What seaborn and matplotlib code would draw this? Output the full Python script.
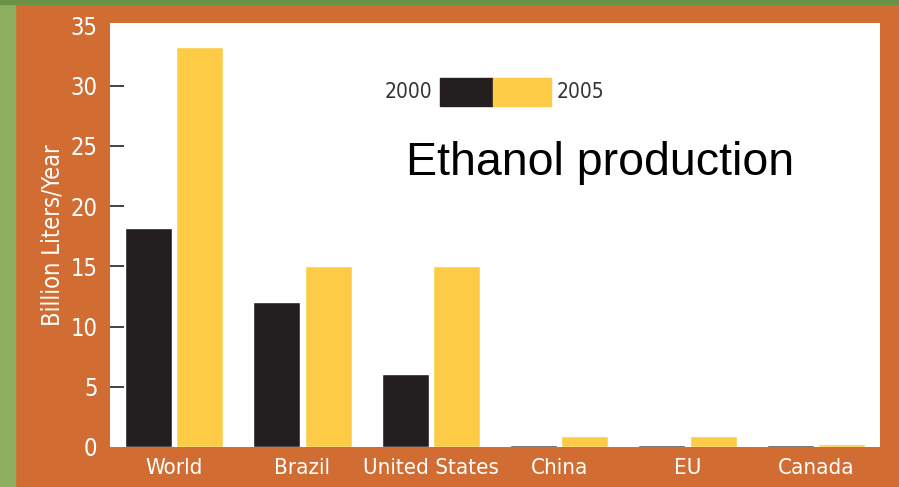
import pandas as pd
import matplotlib.pyplot as plt
import seaborn as sns
from matplotlib.patches import Rectangle
from matplotlib import font_manager

regions = ['World', 'Brazil', 'United States', 'China', 'EU', 'Canada']
prod_2000 = [18.2, 12.0, 6.1, 0.15, 0.15, 0.15]
prod_2005 = [33.2, 15.0, 15.0, 0.9, 0.9, 0.25]
years = ['2000', '2005']
yticks = [0, 5, 10, 15, 20, 25, 30, 35]

df = pd.DataFrame({
    'region': regions * 2,
    'year': [years[0]] * len(regions) + [years[1]] * len(regions),
    'value': prod_2000 + prod_2005,
})

sns.set_theme(style="white")
fonts = font_manager.fontManager.ttflist
names = {f.name for f in fonts}
if 'Liberation Sans Narrow' in names:
    plt.rcParams['font.family'] = ['Liberation Sans Narrow', 'DejaVu Sans']
else:
    plt.rcParams['font.family'] = ['DejaVu Sans']
    plt.rcParams['font.stretch'] = 'condensed'

orange = '#D16D33'
palette = {'2000': '#231F20', '2005': '#FDCB46'}

fig = plt.figure(figsize=(8.99, 4.87), dpi=100, facecolor=orange)
# green slide border
fig.add_artist(Rectangle((0, 0), 15 / 899, 1, transform=fig.transFigure, color='#8DB060', zorder=0))
fig.add_artist(Rectangle((0, 1 - 4 / 487), 1, 4 / 487, transform=fig.transFigure, color='#6A9148', zorder=0))

ax = fig.add_axes([110 / 899, 1 - 447 / 487, 770 / 899, 424 / 487])
ax.set_facecolor('white')

sns.barplot(data=df, x='region', y='value', hue='year', order=regions, hue_order=years,
            palette=palette, width=0.8, gap=0.08, saturation=1, legend=False, ax=ax)

ax.set_xlim(-0.5, 5.5)
ax.set_ylim(0, 35.2)
ax.set_yticks(yticks)
ax.set_yticklabels([str(t) for t in yticks])
for s in ax.spines.values():
    s.set_visible(False)

ax.tick_params(axis='y', direction='in', length=10, width=1.3, color='#333333',
               labelcolor='white', labelsize=17, pad=9, left=True)
ax.tick_params(axis='x', length=0, labelcolor='white', labelsize=16, pad=8)
ticks = ax.yaxis.get_major_ticks()
ticks[0].tick1line.set_visible(False)
ticks[-1].tick1line.set_visible(False)

ax.set_xlabel('')
ax.set_ylabel('Billion Liters/Year', color='white', fontsize=17, labelpad=4)
ax.grid(False)

# legend: 2000 [black][yellow] 2005
fig.add_artist(Rectangle((440 / 899, 1 - 106 / 487), 53 / 899, 28 / 487,
                         transform=fig.transFigure, color=palette['2000']))
fig.add_artist(Rectangle((493 / 899, 1 - 106 / 487), 58 / 899, 28 / 487,
                         transform=fig.transFigure, color=palette['2005']))
fig.text(432 / 899, 1 - 92 / 487, '2000', ha='right', va='center', fontsize=15, color='#333333')
fig.text(557 / 899, 1 - 92 / 487, '2005', ha='left', va='center', fontsize=15, color='#333333')

fig.text(406 / 899, 1 - 175 / 487, 'Ethanol production', ha='left', va='baseline',
         fontsize=33.5, color='black', family=['Liberation Sans', 'DejaVu Sans'], stretch='normal')

fig.savefig('out.png', dpi=100, facecolor=orange)
